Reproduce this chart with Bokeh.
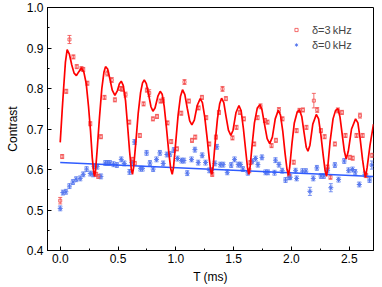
from bokeh.plotting import figure
from bokeh.models import (ColumnDataSource, Whisker, TeeHead, Range1d, Legend, LegendItem,
                          SingleIntervalTicker, PrintfTickFormatter)
from bokeh.embed import file_html
from bokeh.resources import INLINE

# delta = 3 kHz data (T in ms, contrast, error)
red_t = [0.000, 0.017, 0.052, 0.080, 0.114, 0.143, 0.184, 0.199, 0.235, 0.260, 0.311, 0.329,
         0.352, 0.383, 0.407, 0.446, 0.473, 0.519, 0.536, 0.565, 0.597, 0.629, 0.645, 0.689,
         0.721, 0.750, 0.770, 0.802, 0.837, 0.868, 0.888, 0.928, 0.960, 1.010, 1.047, 1.075,
         1.113, 1.140, 1.168, 1.197, 1.226, 1.263, 1.289, 1.315, 1.347, 1.373, 1.404, 1.433,
         1.490, 1.525, 1.554, 1.589, 1.636, 1.645, 1.678, 1.707, 1.733, 1.771, 1.793, 1.828,
         1.866, 1.892, 1.923, 1.980, 2.020, 2.045, 2.070, 2.100, 2.130, 2.194, 2.223, 2.255,
         2.287, 2.312, 2.338, 2.376, 2.402, 2.437, 2.468, 2.506, 2.530, 2.563, 2.593, 2.616,
         2.647, 2.699]
red_c = [0.523, 0.632, 0.793, 0.921, 0.878, 0.854, 0.849, 0.847, 0.813, 0.713, 0.588, 0.583,
         0.681, 0.778, 0.837, 0.821, 0.772, 0.800, 0.799, 0.785, 0.717, 0.625, 0.615, 0.684,
         0.762, 0.796, 0.789, 0.725, 0.731, 0.769, 0.771, 0.715, 0.669, 0.651, 0.739, 0.816,
         0.769, 0.672, 0.680, 0.752, 0.778, 0.728, 0.663, 0.588, 0.680, 0.741, 0.799, 0.775,
         0.678, 0.704, 0.741, 0.725, 0.597, 0.617, 0.663, 0.728, 0.756, 0.721, 0.717, 0.659,
         0.672, 0.747, 0.725, 0.588, 0.618, 0.696, 0.746, 0.747, 0.704, 0.770, 0.747, 0.696,
         0.681, 0.606, 0.581, 0.663, 0.746, 0.741, 0.684, 0.630, 0.628, 0.684, 0.733, 0.684,
         0.585, 0.635]
red_e = [0.008, 0.005, 0.005, 0.010, 0.005, 0.005, 0.005, 0.005, 0.005, 0.005, 0.005, 0.005,
         0.005, 0.005, 0.006, 0.006, 0.005, 0.005, 0.006, 0.006, 0.005, 0.005, 0.005, 0.005,
         0.005, 0.005, 0.008, 0.005, 0.005, 0.005, 0.006, 0.005, 0.005, 0.005, 0.005, 0.006,
         0.005, 0.005, 0.005, 0.005, 0.005, 0.005, 0.005, 0.005, 0.005, 0.005, 0.006, 0.005,
         0.005, 0.005, 0.005, 0.005, 0.005, 0.005, 0.005, 0.005, 0.006, 0.005, 0.005, 0.005,
         0.005, 0.006, 0.005, 0.005, 0.005, 0.005, 0.005, 0.005, 0.005, 0.018, 0.006, 0.005,
         0.005, 0.005, 0.005, 0.005, 0.006, 0.005, 0.005, 0.005, 0.005, 0.005, 0.006, 0.005,
         0.005, 0.005]

# delta = 0 kHz data
blue_t = [0.000, 0.023, 0.049, 0.080, 0.110, 0.138, 0.173, 0.199, 0.228, 0.260, 0.285, 0.292,
          0.320, 0.352, 0.390, 0.410, 0.430, 0.461, 0.490, 0.528, 0.554, 0.600, 0.620, 0.643,
          0.695, 0.712, 0.747, 0.776, 0.804, 0.833, 0.862, 0.891, 0.923, 0.949, 0.983, 1.015,
          1.050, 1.070, 1.099, 1.136, 1.165, 1.194, 1.228, 1.257, 1.290, 1.310, 1.338, 1.355,
          1.385, 1.410, 1.445, 1.479, 1.508, 1.540, 1.560, 1.580, 1.623, 1.661, 1.690, 1.710,
          1.745, 1.776, 1.797, 1.854, 1.862, 1.892, 1.920, 1.949, 1.980, 1.990, 2.036, 2.045,
          2.096, 2.125, 2.160, 2.189, 2.220, 2.255, 2.280, 2.313, 2.341, 2.376, 2.408, 2.457,
          2.494, 2.529, 2.552, 2.587, 2.636, 2.676, 2.696]
blue_c = [0.504, 0.543, 0.545, 0.559, 0.569, 0.576, 0.578, 0.588, 0.601, 0.590, 0.588, 0.608,
          0.607, 0.583, 0.616, 0.616, 0.616, 0.613, 0.611, 0.625, 0.615, 0.594, 0.617, 0.668,
          0.602, 0.602, 0.641, 0.616, 0.601, 0.625, 0.641, 0.615, 0.637, 0.638, 0.648, 0.627,
          0.622, 0.622, 0.591, 0.625, 0.649, 0.617, 0.635, 0.617, 0.598, 0.598, 0.615, 0.656,
          0.612, 0.612, 0.593, 0.611, 0.625, 0.612, 0.612, 0.601, 0.592, 0.620, 0.627, 0.612,
          0.630, 0.593, 0.593, 0.592, 0.623, 0.612, 0.597, 0.574, 0.581, 0.581, 0.597, 0.578,
          0.596, 0.596, 0.546, 0.578, 0.604, 0.584, 0.584, 0.598, 0.555, 0.611, 0.575, 0.621,
          0.598, 0.600, 0.594, 0.563, 0.588, 0.574, 0.611]
blue_e = [0.006] * 74 + [0.010] + [0.006] * 5 + [0.010] + [0.006] * 9 + [0.010]

# fitted curves
fit_red_t = [0.000, 0.017, 0.030, 0.045, 0.060, 0.080, 0.100, 0.120, 0.140, 0.160, 0.184, 0.205,
             0.225, 0.245, 0.262, 0.277, 0.290, 0.297,
             0.305, 0.320, 0.340, 0.360, 0.378, 0.392, 0.410, 0.430, 0.450, 0.473, 0.495, 0.512,
             0.528, 0.545, 0.565, 0.585, 0.600, 0.615, 0.625,
             0.635, 0.655, 0.675, 0.695, 0.712, 0.727, 0.745, 0.765, 0.785, 0.802, 0.820, 0.845,
             0.865, 0.882, 0.900, 0.920, 0.940, 0.957, 0.969,
             0.980, 1.000, 1.020, 1.040, 1.058, 1.078, 1.100, 1.120, 1.139, 1.160, 1.185, 1.211,
             1.230, 1.250, 1.270, 1.290, 1.303, 1.312,
             1.322, 1.340, 1.360, 1.380, 1.396, 1.415, 1.435, 1.455, 1.476, 1.495, 1.520, 1.546,
             1.565, 1.585, 1.605, 1.620, 1.632,
             1.642, 1.660, 1.680, 1.705, 1.727, 1.745, 1.765, 1.790, 1.812, 1.835, 1.860, 1.886,
             1.905, 1.925, 1.945, 1.962, 1.975,
             1.985, 2.005, 2.025, 2.050, 2.070, 2.090, 2.110, 2.128, 2.143, 2.160, 2.185, 2.215,
             2.235, 2.255, 2.275, 2.292, 2.304,
             2.314, 2.335, 2.360, 2.382, 2.402, 2.420, 2.440, 2.458, 2.474, 2.492, 2.520, 2.555,
             2.575, 2.595, 2.615, 2.630, 2.641, 2.655, 2.680, 2.710]
fit_red_c = [0.667, 0.746, 0.803, 0.865, 0.896, 0.884, 0.858, 0.838, 0.832, 0.841, 0.851, 0.840,
             0.812, 0.755, 0.696, 0.630, 0.592, 0.583,
             0.595, 0.650, 0.730, 0.800, 0.840, 0.854, 0.848, 0.823, 0.796, 0.783, 0.795, 0.812,
             0.818, 0.808, 0.770, 0.700, 0.645, 0.600, 0.588,
             0.605, 0.670, 0.740, 0.790, 0.814, 0.821, 0.812, 0.785, 0.755, 0.744, 0.752, 0.781,
             0.793, 0.786, 0.755, 0.700, 0.640, 0.600, 0.588,
             0.605, 0.670, 0.735, 0.780, 0.797, 0.785, 0.750, 0.720, 0.710, 0.722, 0.758, 0.775,
             0.765, 0.730, 0.680, 0.625, 0.595, 0.588,
             0.605, 0.665, 0.725, 0.763, 0.776, 0.765, 0.730, 0.697, 0.684, 0.697, 0.740, 0.758,
             0.745, 0.700, 0.645, 0.605, 0.588,
             0.605, 0.660, 0.715, 0.752, 0.760, 0.748, 0.715, 0.676, 0.664, 0.680, 0.725, 0.746,
             0.735, 0.695, 0.640, 0.600, 0.586,
             0.605, 0.665, 0.715, 0.742, 0.747, 0.730, 0.690, 0.655, 0.645, 0.660, 0.712, 0.736,
             0.725, 0.685, 0.635, 0.596, 0.583,
             0.605, 0.670, 0.725, 0.746, 0.750, 0.730, 0.685, 0.645, 0.626, 0.645, 0.700, 0.725,
             0.715, 0.675, 0.625, 0.595, 0.581, 0.605, 0.660, 0.712]
fit_blue_t = [0.0, 1.35, 2.71]
fit_blue_c = [0.617, 0.600, 0.583]

RED_LINE = "#ff0000"
RED_PTS = "#f24848"
BLUE_LINE = "#2f5cff"
BLUE_PTS = "#5677ee"
FONT = "Liberation Sans"

p = figure(width=382, height=287, output_backend="svg", toolbar_location=None,
           x_range=Range1d(-0.11, 2.71), y_range=Range1d(0.4, 1.0),
           min_border_left=47, min_border_right=9, min_border_top=7, min_border_bottom=37)
p.xgrid.visible = False
p.ygrid.visible = False
p.outline_line_color = "black"
p.outline_line_width = 1
p.background_fill_color = "white"
p.border_fill_color = "white"

red_src = ColumnDataSource(dict(t=red_t, c=red_c,
                                lo=[c - e for c, e in zip(red_c, red_e)],
                                hi=[c + e for c, e in zip(red_c, red_e)]))
blue_src = ColumnDataSource(dict(t=blue_t, c=blue_c,
                                 lo=[c - e for c, e in zip(blue_c, blue_e)],
                                 hi=[c + e for c, e in zip(blue_c, blue_e)]))

bw = Whisker(source=blue_src, base="t", upper="hi", lower="lo", line_color=BLUE_PTS, line_width=0.8,
             upper_head=TeeHead(size=4, line_color=BLUE_PTS, line_width=0.8),
             lower_head=TeeHead(size=4, line_color=BLUE_PTS, line_width=0.8))
p.add_layout(bw)
blue_r = p.scatter("t", "c", source=blue_src, marker="asterisk", size=5, line_color=BLUE_PTS,
                   line_width=1)

rw = Whisker(source=red_src, base="t", upper="hi", lower="lo", line_color=RED_PTS, line_width=0.8,
             upper_head=TeeHead(size=4, line_color=RED_PTS, line_width=0.8),
             lower_head=TeeHead(size=4, line_color=RED_PTS, line_width=0.8))
p.add_layout(rw)
red_r = p.scatter("t", "c", source=red_src, marker="square", size=3, fill_color=None,
                  line_color=RED_PTS, line_width=0.8)

p.line(fit_blue_t, fit_blue_c, line_color=BLUE_LINE, line_width=1.5)
p.line(fit_red_t, fit_red_c, line_color=RED_LINE, line_width=1.7)

for ax in (p.xaxis[0], p.yaxis[0]):
    ax.axis_line_color = "black"
    ax.major_tick_line_color = "black"
    ax.minor_tick_line_color = "black"
    ax.major_tick_in = 4
    ax.major_tick_out = 0
    ax.minor_tick_in = 2
    ax.minor_tick_out = 0
    ax.major_label_text_font = FONT
    ax.major_label_text_font_size = "12px"
    ax.major_label_text_color = "black"
    ax.axis_label_text_font = FONT
    ax.axis_label_text_font_size = "12px"
    ax.axis_label_text_font_style = "normal"
    ax.axis_label_text_color = "black"
    ax.formatter = PrintfTickFormatter(format="%.1f")

p.xaxis.ticker = SingleIntervalTicker(interval=0.5, num_minor_ticks=2)
p.yaxis.ticker = SingleIntervalTicker(interval=0.1, num_minor_ticks=2)
p.xaxis.axis_label = "T (ms)"
p.yaxis.axis_label = "Contrast"
p.xaxis.major_label_standoff = 3
p.xaxis.axis_label_standoff = 4
p.yaxis.major_label_standoff = 4
p.yaxis.axis_label_standoff = 4

legend = Legend(items=[LegendItem(label="δ=3\u2009kHz", renderers=[red_r]),
                       LegendItem(label="δ=0\u2009kHz", renderers=[blue_r])],
                location=(245, 199), border_line_color=None, background_fill_alpha=0,
                label_text_font=FONT, label_text_font_size="11px", glyph_width=8, glyph_height=13,
                label_standoff=12, spacing=2, padding=2, label_height=13)
p.add_layout(legend)

open("out.html", "w").write(file_html(p, INLINE))
